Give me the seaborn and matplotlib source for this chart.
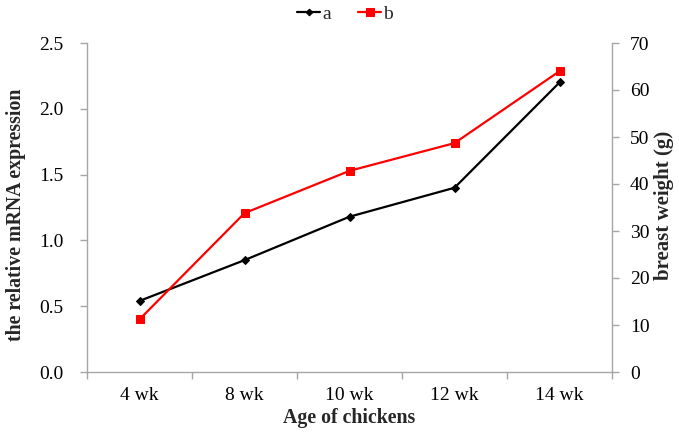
import matplotlib
matplotlib.use("Agg")
import matplotlib.pyplot as plt
import seaborn as sns
import pandas as pd
import numpy as np

categories = ["4 wk", "8 wk", "10 wk", "12 wk", "14 wk"]
series_a = [0.54, 0.85, 1.18, 1.40, 2.20]   # relative mRNA expression (left axis)
series_b = [11.2, 33.8, 42.8, 48.7, 64.0]   # breast weight, g (right axis)
left_ticks = [0.0, 0.5, 1.0, 1.5, 2.0, 2.5]
right_ticks = [0, 10, 20, 30, 40, 50, 60, 70]

sns.set_theme(style="white")
plt.rcParams['font.family'] = ['Liberation Serif', 'DejaVu Serif']

df = pd.DataFrame({"pos": np.arange(len(categories)), "a": series_a, "b": series_b})

W, H = 679, 436
fig = plt.figure(figsize=(W / 100, H / 100), dpi=100)
L, R, T, B = 87, 612, 43, 372
ax = fig.add_axes([L / W, 1 - B / H, (R - L) / W, (B - T) / H])
ax2 = ax.twinx()

sns.lineplot(data=df, x="pos", y="a", ax=ax, color="black", marker="D", markersize=4,
             linewidth=1.6, markeredgecolor="black", label="a", legend=False)
sns.lineplot(data=df, x="pos", y="b", ax=ax2, color="#ff0000", marker="s", markersize=6,
             linewidth=1.6, markeredgecolor="#ff0000", label="b", legend=False)

gray = "#a6a6a6"
for a in (ax, ax2):
    for s in a.spines.values():
        s.set_visible(False)
ax.spines["left"].set_visible(True)
ax.spines["bottom"].set_visible(True)
ax2.spines["right"].set_visible(True)
for s in (ax.spines["left"], ax.spines["bottom"], ax2.spines["right"]):
    s.set_color(gray)
    s.set_linewidth(1.0)

ax.set_xlim(-0.5, len(categories) - 0.5)
ax.set_ylim(0, 2.5)
ax2.set_ylim(0, 70)
ax.set_yticks(left_ticks)
ax.set_yticklabels([f"{v:.1f}" for v in left_ticks])
ax2.set_yticks(right_ticks)
ax2.set_yticklabels([str(v) for v in right_ticks])

ax.set_xticks(np.arange(-0.5, len(categories), 1.0))
ax.set_xticklabels([])
ax.set_xticks(np.arange(len(categories)), minor=True)
ax.set_xticklabels(categories, minor=True)
ax.tick_params(axis="x", which="major", length=5, color=gray, width=1, direction="out", bottom=True)
ax.tick_params(axis="x", which="minor", length=0, labelsize=14, pad=11, colors="black")
ax.tick_params(axis="y", length=5, color=gray, width=1, direction="out", left=True,
               labelsize=14, pad=12, labelcolor="black")
ax2.tick_params(axis="y", length=5, color=gray, width=1, direction="out", right=True,
                labelsize=14, pad=8, labelcolor="black")

ax.set_xlabel("Age of chickens", fontsize=14.3, fontweight="bold", va="center")
ax.set_ylabel("the relative mRNA expression", fontsize=14.3, fontweight="bold", va="center")
ax2.set_ylabel("breast weight (g)", fontsize=15, fontweight="bold", va="center")
ax.xaxis.set_label_coords(0.5, (B - 418) / (B - T))
ax.yaxis.set_label_coords((16 - L) / (R - L), (B - 215) / (B - T))
ax2.yaxis.set_label_coords((664 - L) / (R - L), (B - 205) / (B - T))

ax.grid(False)
ax2.grid(False)

h1, l1 = ax.get_legend_handles_labels()
h2, l2 = ax2.get_legend_handles_labels()
leg = fig.legend(h1 + h2, l1 + l2, loc="center", bbox_to_anchor=(345 / W, 1 - 14 / H), ncol=2,
                 frameon=False, fontsize=14, handlelength=1.2, handletextpad=0.1,
                 columnspacing=1.4, borderpad=0.2)
for hdl in leg.legend_handles:
    hdl.set_markersize(hdl.get_markersize() * 0.85)

fig.savefig("out.png", dpi=100)
